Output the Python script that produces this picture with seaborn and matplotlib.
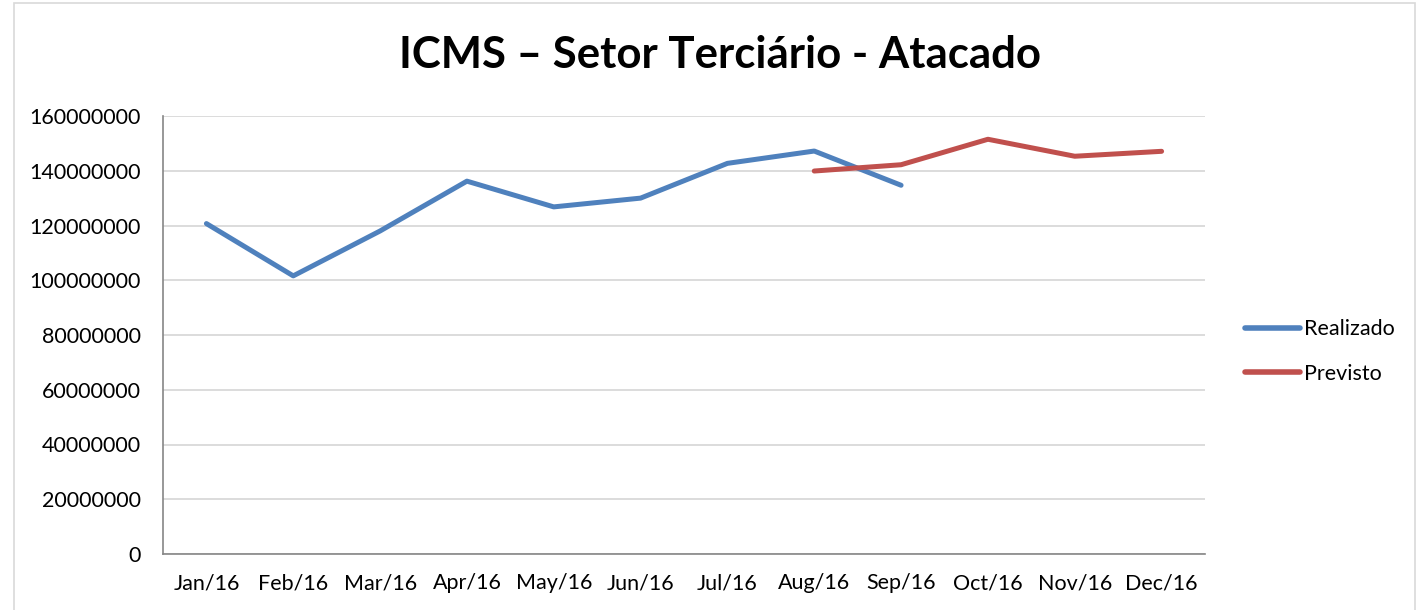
import matplotlib
matplotlib.use("Agg")
import matplotlib.pyplot as plt
import seaborn as sns
import pandas as pd
from matplotlib.patches import Rectangle

months = ["Jan/16", "Feb/16", "Mar/16", "Apr/16", "May/16", "Jun/16",
          "Jul/16", "Aug/16", "Sep/16", "Oct/16", "Nov/16", "Dec/16"]
realizado = [120.7e6, 101.6e6, 118.0e6, 136.2e6, 126.8e6, 130.0e6,
             142.7e6, 147.2e6, 134.7e6, None, None, None]
previsto = [None, None, None, None, None, None,
            None, 139.9e6, 142.2e6, 151.5e6, 145.3e6, 147.1e6]
yticks = [0, 20000000, 40000000, 60000000, 80000000, 100000000,
          120000000, 140000000, 160000000]

sns.set_theme(style="white")
plt.rcParams['font.family'] = ['Lato', 'DejaVu Sans']
plt.rcParams['text.color'] = 'black'
plt.rcParams['xtick.color'] = 'black'
plt.rcParams['ytick.color'] = 'black'

rows = []
for i, m in enumerate(months):
    if realizado[i] is not None:
        rows.append({"idx": i, "valor": realizado[i], "serie": "Realizado"})
    if previsto[i] is not None:
        rows.append({"idx": i, "valor": previsto[i], "serie": "Previsto"})
df = pd.DataFrame(rows)

fig = plt.figure(figsize=(14.23, 6.10), dpi=100)
ax = fig.add_axes([163/1423, 1-554/610, (1205-163)/1423, (554-116)/610])

sns.lineplot(data=df, x="idx", y="valor", hue="serie",
             palette={"Realizado": "#4F81BD", "Previsto": "#C0504D"},
             linewidth=3.6, ax=ax, legend=True, solid_capstyle="round")

ax.set_xlim(-0.5, 11.5)
ax.set_ylim(0, 160e6)
ax.set_xticks(range(len(months)))
ax.set_xticklabels(months, fontsize=15.5, color="black")
ax.set_yticks(yticks)
ax.set_yticklabels([str(v) for v in yticks], fontsize=15.5, color="black")
ax.tick_params(axis='x', length=0, pad=14)
ax.tick_params(axis='y', length=0, pad=16)
ax.yaxis.grid(True, color="#D9D9D9", linewidth=1.3)
ax.set_axisbelow(True)
for s in ["top", "right"]:
    ax.spines[s].set_visible(False)
for s in ["left", "bottom"]:
    ax.spines[s].set_color("#868686")
    ax.spines[s].set_linewidth(1.2)
ax.set_xlabel("")
ax.set_ylabel("")

handles, labels = ax.get_legend_handles_labels()
leg = ax.legend(handles, labels, loc="center left", bbox_to_anchor=(1.0384, 0.462),
                frameon=False, fontsize=15.5, handlelength=2.55, handletextpad=0.2,
                labelspacing=1.15, borderaxespad=0.0, borderpad=0.0)
for h in leg.get_lines():
    h.set_linewidth(4)
    h.set_solid_capstyle("round")
for t in leg.get_texts():
    t.set_color("black")

fig.text(720/1423, 1-55/610, "ICMS – Setor Terciário - Atacado",
         ha="center", va="center", fontsize=31.5, fontweight="bold", color="black")

fig.patches.append(Rectangle((14/1423, -0.01), (1415-14)/1423, 1-3/610 + 0.01,
                             transform=fig.transFigure, fill=False,
                             edgecolor="#D9D9D9", linewidth=1.2))

fig.savefig("out.png", dpi=100)
